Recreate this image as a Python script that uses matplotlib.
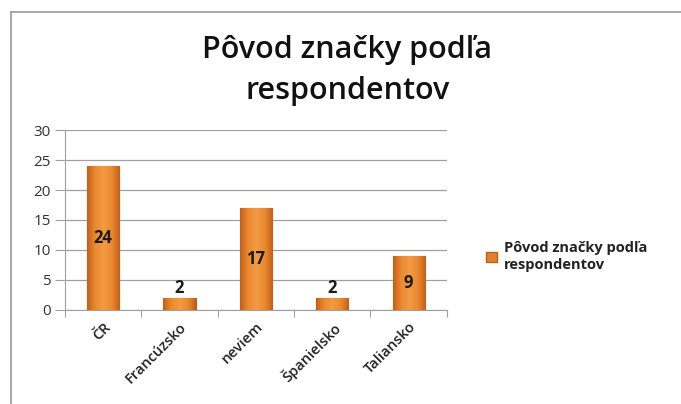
import numpy as np
import matplotlib
matplotlib.use("Agg")
import matplotlib.pyplot as plt
from matplotlib.lines import Line2D
from matplotlib.patches import Patch
from matplotlib.colors import LinearSegmentedColormap

# data
categories = ["ČR", "Francúzsko", "neviem", "Španielsko", "Taliansko"]
values = [24, 2, 17, 2, 9]
series_name = "Pôvod značky podľa\nrespondentov"
title = "Pôvod značky podľa\nrespondentov"

plt.rcParams["font.family"] = ["Open Sans", "DejaVu Sans"]

fig = plt.figure(figsize=(6.81, 4.04), dpi=100)
ax = fig.add_axes([0.0954, 0.2327, 0.5606, 0.4455])

x = np.arange(len(categories))
bars = ax.bar(x, values, width=0.42, color="#E8842A", edgecolor="#B8591A",
              linewidth=0.8, zorder=3)

# cylinder-like shading inside each bar
cmap = LinearSegmentedColormap.from_list(
    "orange", ["#C45E18", "#EB8A30", "#F29B45", "#EB8A30", "#C45E18"])
grad = np.linspace(0, 1, 256).reshape(1, -1)
for b in bars:
    im = ax.imshow(grad, cmap=cmap, aspect="auto", zorder=3,
                   extent=[b.get_x(), b.get_x() + b.get_width(), 0, b.get_height()])
    im.set_clip_path(b)

ax.set_xlim(-0.5, len(categories) - 0.5)
ax.set_ylim(0, 30)
ax.set_yticks(range(0, 31, 5))
ax.grid(axis="y", color="#a0a0a0", linewidth=0.9, zorder=0)

for s in ["top", "right"]:
    ax.spines[s].set_visible(False)
ax.spines["left"].set_color("#a0a0a0")
ax.spines["bottom"].set_color("#a0a0a0")

ax.tick_params(axis="y", length=7, color="#a0a0a0", labelsize=11, labelcolor="#333333", pad=3)
ax.set_xticks(np.arange(-0.5, len(categories), 1), minor=False)
ax.set_xticklabels([])
ax.tick_params(axis="x", length=5, color="#a0a0a0")
ax.set_xticks(x, minor=True)
ax.set_xticklabels(categories, minor=True, rotation=45, ha="right",
                   rotation_mode="anchor", fontsize=10.5, fontweight="semibold", color="#222222")
ax.tick_params(axis="x", which="minor", length=0, pad=7)

for xi, v in zip(x, values):
    if v >= 5:
        ax.text(xi, v / 2, str(v), ha="center", va="center", fontsize=12,
                fontweight="bold", color="#1a1a1a", zorder=5)
    else:
        ax.text(xi, v + 0.1, str(v), ha="center", va="bottom", fontsize=12,
                fontweight="bold", color="#1a1a1a", zorder=5)

fig.text(0.51, 0.826, title, ha="center", va="center", fontsize=22,
         fontweight="semibold", color="#111111", linespacing=1.5)

leg = fig.legend(handles=[Patch(facecolor="#E0802C", edgecolor="#B8651C", label=series_name)],
                 loc="center left", bbox_to_anchor=(0.695, 0.365), frameon=False,
                 handlelength=0.7, handleheight=0.7, handletextpad=0.5,
                 prop={"size": 10.5, "weight": "bold"})
for t in leg.get_texts():
    t.set_color("#222222")

# outer frame lines (left and top)
fig.add_artist(Line2D([11 / 681, 11 / 681], [0, 1 - 12 / 404], color="#9a9a9a", linewidth=1.2))
fig.add_artist(Line2D([11 / 681, 1], [1 - 12 / 404, 1 - 12 / 404], color="#9a9a9a", linewidth=1.2))

fig.savefig("out.png", dpi=100)
